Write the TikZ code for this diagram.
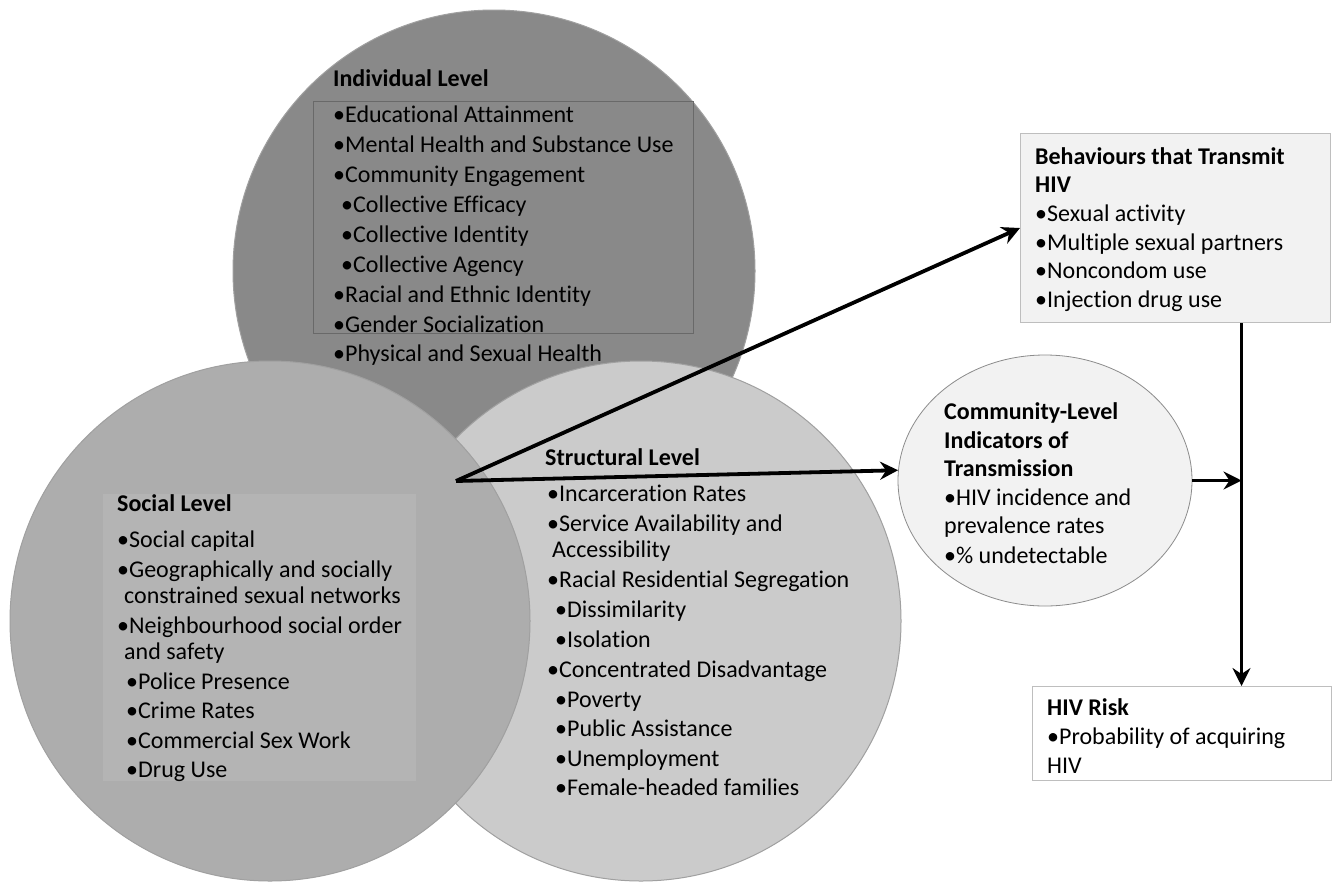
\documentclass[tikz,border=0pt]{standalone}
\usepackage{fontspec}
\setmainfont{Carlito}[Ligatures={NoCommon,NoRare,NoDiscretionary}]
\usetikzlibrary{arrows.meta,shapes.geometric}
\definecolor{indivfill}{RGB}{137,137,137}
\definecolor{socialfill}{RGB}{173,173,173}
\definecolor{socialbox}{RGB}{180,180,180}
\definecolor{structfill}{RGB}{203,203,203}
\definecolor{circedge}{RGB}{160,160,160}
\definecolor{indedge}{RGB}{105,105,105}
\definecolor{boxfill}{RGB}{242,242,242}
\definecolor{boxedge}{RGB}{190,190,190}
\definecolor{elledge}{RGB}{140,140,140}
\begin{document}
\begin{tikzpicture}[x=1pt,y=-1pt,
  lvl/.style={circle, minimum size=#1, inner sep=0pt, draw=circedge, line width=1pt},
  ln/.style={anchor=base west, inner sep=0pt, font=\fontsize{24}{26}\selectfont},
  hd/.style={anchor=base west, inner sep=0pt, font=\fontsize{24}{26}\selectfont\bfseries},
  arr/.style={line width=3.8pt, -{Stealth[length=18pt,width=18pt,inset=6pt]}},
]
\useasboundingbox[fill=white] (0,0) rectangle (1339,884);

% the three overlapping levels
\node[lvl=522pt, fill=indivfill] (indiv) at (494,271) {};
\node[lvl=520pt, fill=structfill] (struct) at (641,621) {};
\node[lvl=520pt, fill=socialfill] (social) at (270,621) {};

% panels inside the circles
\node[draw=indedge, line width=1.2pt, minimum width=380pt, minimum height=232pt,
      anchor=north west, inner sep=0pt] (indbox) at (313,101) {};
\node[fill=socialbox, minimum width=313pt, minimum height=287pt,
      anchor=north west, inner sep=0pt] (socbox) at (103,494) {};

% outcome boxes
\node[draw=boxedge, fill=boxfill, line width=1pt, minimum width=310pt, minimum height=189pt,
      anchor=north west, inner sep=0pt] (beh) at (1020,133) {};
\node[ellipse, draw=elledge, fill=boxfill, line width=0.8pt, minimum width=294pt,
      minimum height=251pt, inner sep=0pt] (comm) at (1045,480.5) {};
\node[draw=boxedge, fill=white, line width=1pt, minimum width=299pt, minimum height=94pt,
      anchor=north west, inner sep=0pt] (risk) at (1032,686) {};

% Individual level
\node[hd] (indhd) at (333,86.5) {Individual Level};
\foreach \x/\y/\t [count=\i] in {
  333/122.7/•Educational Attainment,
  333/152.6/•Mental Health and Substance Use,
  333/182.5/•Community Engagement,
  341/212.4/•Collective Efficacy,
  341/242.3/•Collective Identity,
  341/272.2/•Collective Agency,
  333/302.1/•Racial and Ethnic Identity,
  333/332.0/•Gender Socialization,
  333/361.9/•Physical and Sexual Health}
  \node[ln] (ind-\i) at (\x,\y) {\t};

% Social level
\node[hd] (sochd) at (117,511.5) {Social Level};
\foreach \x/\y/\t [count=\i] in {
  117/547.5/•Social capital,
  117/577.5/•Geographically and socially,
  124/603.5/constrained sexual networks,
  117/633.5/•Neighbourhood social order,
  124/659.5/and safety,
  126/689.5/•Police Presence,
  126/718.5/•Crime Rates,
  126/748.5/•Commercial Sex Work,
  126/777.5/•Drug Use}
  \node[ln] (soc-\i) at (\x,\y) {\t};

% Structural level
\node[hd] (strhd) at (545,465.5) {Structural Level};
\foreach \x/\y/\t [count=\i] in {
  547/501.5/•Incarceration Rates,
  547/531.5/•Service Availability and,
  552/557.5/Accessibility,
  547/587.5/•Racial Residential Segregation,
  555/617.5/•Dissimilarity,
  555/647.5/•Isolation,
  547/677.5/•Concentrated Disadvantage,
  555/707.5/•Poverty,
  555/736.5/•Public Assistance,
  555/766.5/•Unemployment,
  555/795.5/•Female-headed families}
  \node[ln] (str-\i) at (\x,\y) {\t};

% Behaviours that transmit HIV
\node[hd] (behhd1) at (1035,164) {Behaviours that Transmit};
\node[hd] (behhd2) at (1035,192) {HIV};
\foreach \y/\t [count=\i] in {
  221/•Sexual activity,
  250/•Multiple sexual partners,
  278/•Noncondom use,
  307/•Injection drug use}
  \node[ln] (beh-\i) at (1035,\y) {\t};

% Community-level indicators
\node[hd] (commhd1) at (944,419.5) {Community-Level};
\node[hd] (commhd2) at (944,448.5) {Indicators of};
\node[hd] (commhd3) at (944,476.5) {Transmission};
\node[ln] (comm-1) at (944,505.5) {•HIV incidence and};
\node[ln] (comm-2) at (944,533.5) {prevalence rates};
\node[ln] (comm-3) at (944,563.5) {•\% undetectable};

% HIV risk
\node[hd] (riskhd) at (1047,715.5) {HIV Risk};
\node[ln] (risk-1) at (1047,744.5) {•Probability of acquiring};
\node[ln] (risk-2) at (1047,773.5) {HIV};

% connectors
\coordinate (src) at (456,481);
\coordinate (vline) at (1241.5,322);
\draw[arr] (src) -- (beh.west);
\draw[arr] (src) -- (comm.176);
\draw[arr] (comm.east) -- (vline |- comm.east);
\draw[arr] (vline |- beh.south) -- (vline |- risk.north);
\end{tikzpicture}
\end{document}
